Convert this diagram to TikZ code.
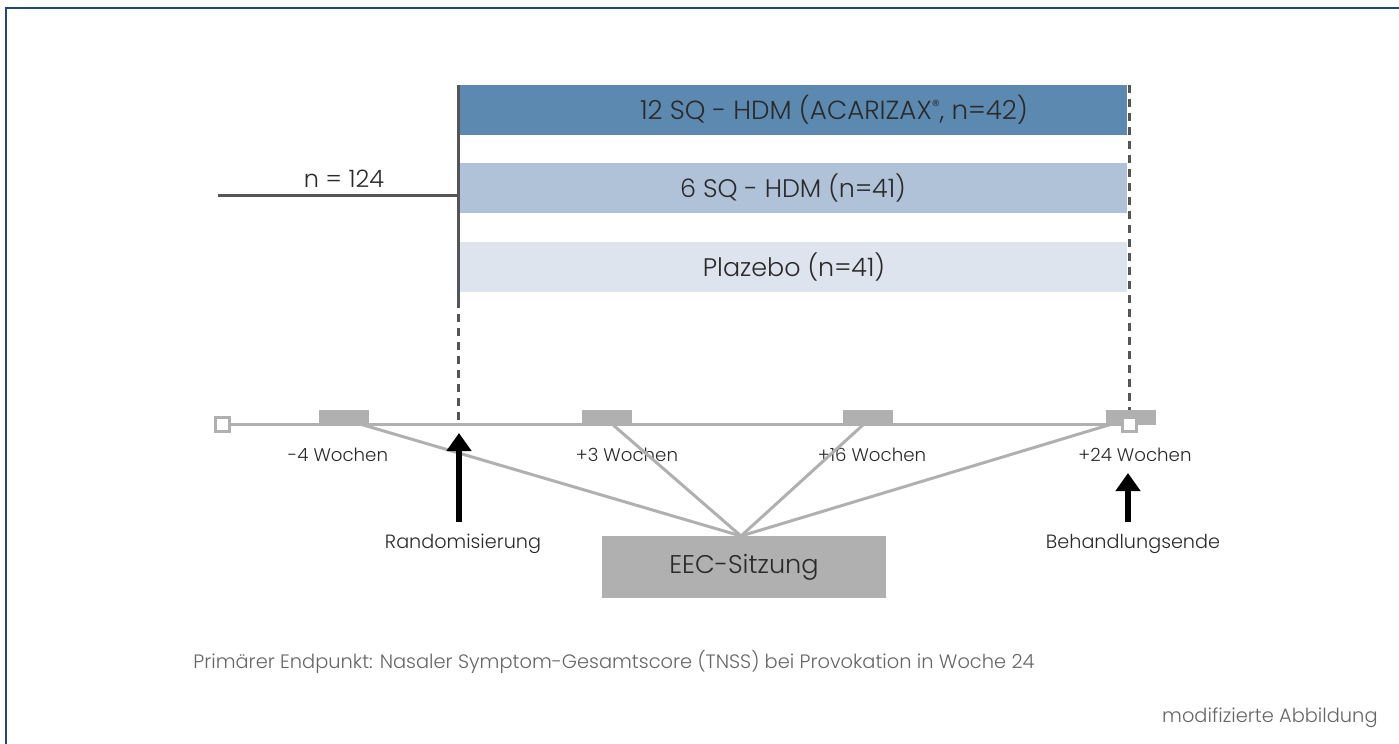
\documentclass[tikz,border=0pt]{standalone}
\usepackage{fontspec}
\setmainfont{Poppins}[UprightFont={* Light}]
\usetikzlibrary{arrows.meta}
\definecolor{frameblue}{HTML}{1F4A78}
\definecolor{armA}{HTML}{5C89B0}
\definecolor{armB}{HTML}{AFC2D8}
\definecolor{armC}{HTML}{DDE4EE}
\definecolor{tlgray}{HTML}{B0B0B0}
\definecolor{darkline}{HTML}{555555}
\definecolor{txt}{HTML}{2A2A2A}
\definecolor{foot}{HTML}{666666}
\tikzset{
  armbar/.style={draw=none, minimum width=669*0.5pt, minimum height=50*0.5pt, inner sep=0pt},
  armtext/.style={text=txt, font=\fontsize{12.7}{14}\selectfont, inner sep=0pt},
  visit/.style={fill=tlgray, draw=none, minimum width=50*0.5pt, minimum height=15*0.5pt, inner sep=0pt},
  endsq/.style={fill=white, draw=tlgray, line width=1.5pt, minimum size=7*0.5pt*2, inner sep=0pt},
  weeklbl/.style={text=txt, font=\fontsize{9.1}{10}\selectfont, inner sep=0pt},
  tline/.style={draw=tlgray, line width=1.5pt},
  guide/.style={draw=darkline, line width=1.5pt},
  guidedash/.style={draw=darkline, line width=1.5pt, dash pattern=on 4pt off 3pt},
  bigarrow/.style={draw=black, line width=3pt, -{Triangle[length=9pt,width=12pt]}},
  notetext/.style={text=foot, font=\fontsize{9.7}{11}\selectfont, inner sep=0pt},
}
\begin{document}
\begin{tikzpicture}[x=0.5pt, y=-0.5pt]
\useasboundingbox (0,0) rectangle (1399,744);
% frame (top and left edges)
\draw[frameblue, line width=1pt] (6,744) -- (6,8) -- (1399,8);

% treatment arms
\node[armbar, fill=armA] (armA) at (792.5,110) {};
\node[armbar, fill=armB] (armB) at (792.5,188) {};
\node[armbar, fill=armC] (armC) at (792.5,267) {};
\node[armtext, font=\fontsize{13.1}{15}\selectfont] (armAt) at (834,110) {12 SQ - HDM (ACARIZAX\raisebox{0.6ex}{\fontsize{8}{8}\selectfont ®}, n=42)};
\node[armtext] (armBt) at (793,188) {6 SQ - HDM (n=41)};
\node[armtext] (armCt) at (794,267) {Plazebo (n=41)};

% randomisation branch
\coordinate (rTop) at (458,85);
\coordinate (rBot) at (458,300);
\coordinate (rTl) at (458,420);
\coordinate (nStart) at (218,195);
\coordinate (nEnd) at (458,195);
\draw[guide] (rTop) -- (rBot);
\draw[guidedash] (rBot) -- (rTl);
\draw[guide] (nStart) -- (nEnd);
\node[text=txt, font=\fontsize{12}{14}\selectfont, inner sep=0pt] (nlbl) at (344,179) {n = 124};

% end of treatment guide
\coordinate (eTop) at (1129,85);
\coordinate (eBot) at (1129,410);
\draw[guidedash] (eTop) -- (eBot);

% timeline
\node[endsq] (startsq) at (222,424) {};
\node[visit] (v1) at (344,417.5) {};
\node[visit] (v2) at (607,417.5) {};
\node[visit] (v3) at (868,417.5) {};
\node[visit] (v4) at (1131,417.5) {};
\coordinate (tEnd) at (1129,424);
\draw[tline] (startsq.east) -- (tEnd);
\node[endsq] (endsq) at (1129,424) {};

\node[weeklbl] (w1) at (338,455) {-4 Wochen};
\node[weeklbl] (w2) at (627,455) {+3 Wochen};
\node[weeklbl] (w3) at (872,455) {+16 Wochen};
\node[weeklbl] (w4) at (1135,455) {+24 Wochen};

% session box with connectors
\node[fill=tlgray, minimum width=284*0.5pt, minimum height=62*0.5pt, inner sep=0pt, text=txt, font=\fontsize{12.8}{15}\selectfont] (eec) at (744,567) {EEC-Sitzung};
\coordinate (hub) at (741,536);
\coordinate (c1) at (360,424);
\coordinate (c2) at (612,424);
\coordinate (c3) at (864,424);
\coordinate (c4) at (1112,424);
\foreach \c in {c1,c2,c3,c4} \draw[tline] (\c) -- (hub);

% milestone arrows
\coordinate (a1s) at (459,522);
\coordinate (a1e) at (459,433);
\coordinate (a2s) at (1128,522);
\coordinate (a2e) at (1128,473);
\draw[bigarrow] (a1s) -- (a1e);
\draw[bigarrow] (a2s) -- (a2e);
\node[weeklbl, font=\fontsize{9.6}{11}\selectfont] (rand) at (463,544) {Randomisierung};
\node[weeklbl, font=\fontsize{9.6}{11}\selectfont] (bend) at (1133,544) {Behandlungsende};

% notes
\node[notetext, anchor=west] (note) at (193,662) {Primärer Endpunkt: Nasaler Symptom-Gesamtscore (TNSS) bei Provokation in Woche 24};
\node[notetext, anchor=east] (mod) at (1378,718) {modifizierte Abbildung};
\end{tikzpicture}
\end{document}
